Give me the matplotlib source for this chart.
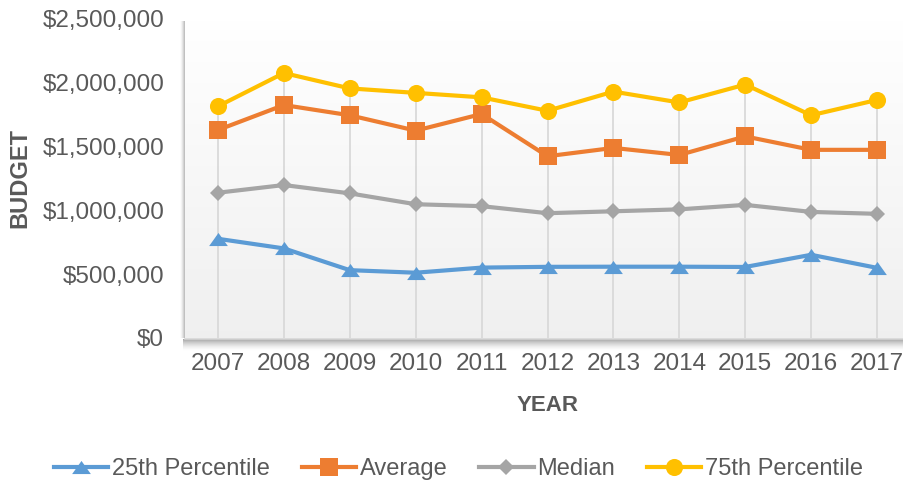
import numpy as np
import matplotlib
matplotlib.use("Agg")
import matplotlib.pyplot as plt
from matplotlib.path import Path
from matplotlib.ticker import FuncFormatter

plt.rcParams['font.family'] = ['Liberation Sans', 'DejaVu Sans']

years = [2007, 2008, 2009, 2010, 2011, 2012, 2013, 2014, 2015, 2016, 2017]
p25 = [775000, 700000, 530000, 510000, 550000, 556000, 557000, 557000, 555000, 650000, 548000]
average = [1625000, 1820000, 1740000, 1620000, 1750000, 1420000, 1485000, 1430000, 1575000, 1470000, 1470000]
median = [1135000, 1195000, 1130000, 1045000, 1030000, 975000, 990000, 1005000, 1040000, 985000, 970000]
p75 = [1810000, 2070000, 1950000, 1915000, 1880000, 1775000, 1925000, 1840000, 1980000, 1740000, 1860000]
yticks = [0, 500000, 1000000, 1500000, 2000000, 2500000]

series_names = ['25th Percentile', 'Average', 'Median', '75th Percentile']
colors = ['#5B9BD5', '#ED7D31', '#A5A5A5', '#FFC000']
TEXT = '#595959'

W, H = 904, 484
fig = plt.figure(figsize=(W / 100, H / 100), dpi=100)

# pixel-space decoration axes (background gradient, wall/floor shadows)
bg = fig.add_axes([0, 0, 1, 1], zorder=0)
bg.set_xlim(0, W)
bg.set_ylim(H, 0)
bg.axis('off')

PL, PR, PT, PB = 185, 910, 18, 338
grad = np.linspace(1.0, 0.94, 256).reshape(-1, 1)
bg.imshow(np.dstack([grad, grad, grad]), extent=[PL, W, PB, PT + 2], aspect='auto',
          interpolation='bilinear', zorder=0)
# floor shadow
fl = np.linspace(0, 1, 64).reshape(-1, 1)
fcol = np.zeros((64, 1, 4))
fcol[..., 0:3] = 0.58
fcol[..., 3] = (1 - fl) ** 1.6 * 0.85
bg.imshow(np.repeat(fcol, 2, axis=1), extent=[PL - 2, W, PB + 13, PB + 1], aspect='auto',
          interpolation='bilinear', zorder=1)
bg.plot([PL, W], [PB + 0.5, PB + 0.5], color='#d4d4d4', lw=1.2, zorder=2)
# left wall shadow
wl = np.linspace(0, 1, 32).reshape(1, -1)
wcol = np.zeros((1, 32, 4))
wcol[..., 0:3] = 0.62
wcol[..., 3] = wl ** 1.5 * 0.75
bg.imshow(np.repeat(wcol, 2, axis=0), extent=[PL - 5, PL, PB, PT + 3], aspect='auto',
          interpolation='bilinear', zorder=1)

ax = fig.add_axes([PL / W, 1 - PB / H, (PR - PL) / W, (PB - PT) / H], zorder=1)
ax.set_facecolor('none')
for s in ax.spines.values():
    s.set_visible(False)

ax.set_xlim(years[0] - 0.5, years[-1] + 0.5)
ax.set_ylim(yticks[0], yticks[-1])

# drop lines
tops = np.max([p25, average, median, p75], axis=0)
ax.vlines(years, 0, tops, color='#d9d9d9', lw=1.3, zorder=2)

tri = Path([(0, 0.7), (-1, -0.7), (1, -0.7), (0, 0.7)],
           [Path.MOVETO, Path.LINETO, Path.LINETO, Path.CLOSEPOLY])
markers = [tri, 's', 'D', 'o']
msizes = [13.5, 13, 8.3, 12.3]
data = [p25, average, median, p75]
for vals, name, c, m, ms in zip(data, series_names, colors, markers, msizes):
    ax.plot(years, vals, color=c, lw=3, marker=m, markersize=ms,
            markeredgewidth=0, label=name, zorder=3, solid_joinstyle='round')

ax.set_xticks(years)
ax.set_xticklabels([str(y) for y in years])
ax.set_yticks(yticks)
ax.yaxis.set_major_formatter(FuncFormatter(lambda v, p: '${:,.0f}'.format(v)))
ax.tick_params(axis='both', length=0, labelsize=17.5, colors=TEXT)
ax.tick_params(axis='y', pad=15)
ax.tick_params(axis='x', pad=11)

ax.set_xlabel('YEAR', fontsize=16, fontweight='bold', color=TEXT)
ax.xaxis.set_label_coords(0.5, -0.228)
ax.xaxis.label.set_va('baseline')
ax.set_ylabel('BUDGET', fontsize=17, fontweight='bold', color=TEXT)
ax.yaxis.set_label_coords(-0.2124, 0.5)

handles, labels = ax.get_legend_handles_labels()
leg = fig.legend(handles, labels, loc='center', bbox_to_anchor=(0.507, 1 - 469 / H),
                 ncol=4, frameon=False, fontsize=17, handlelength=2.3,
                 handletextpad=0.15, columnspacing=1.35, borderaxespad=0)
for t in leg.get_texts():
    t.set_color(TEXT)

fig.savefig('out.png', dpi=100)
